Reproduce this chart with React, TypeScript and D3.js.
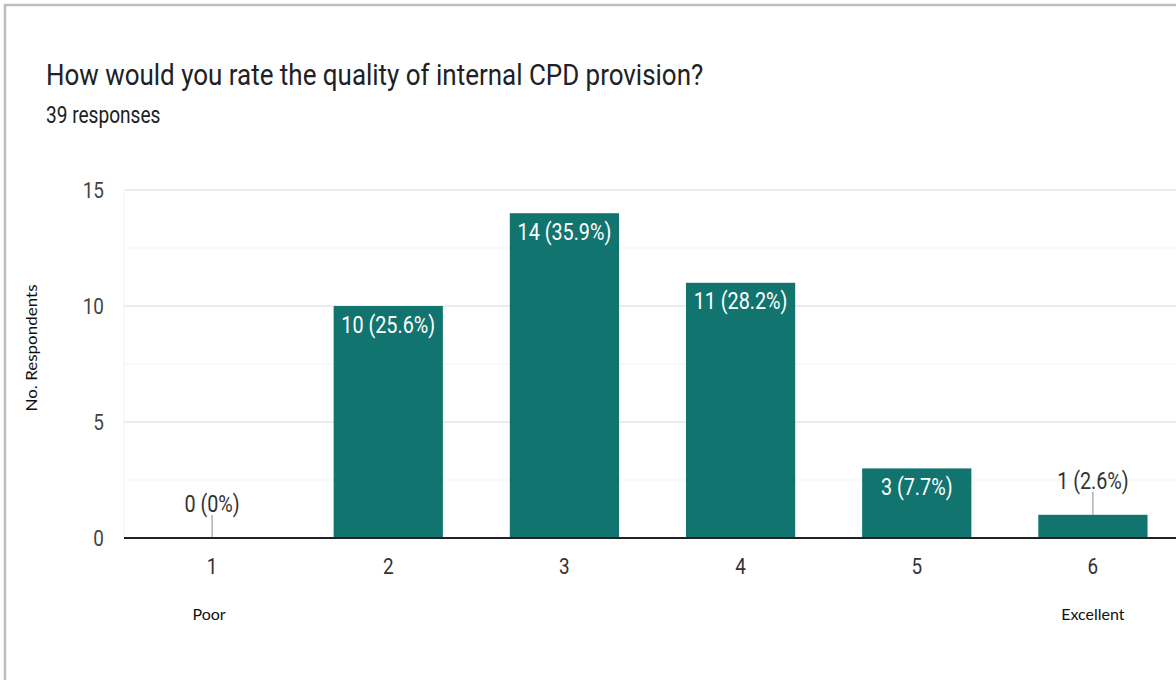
import React from "react";
import * as d3 from "d3";

// Survey answers: rating 1..6 and how many people picked each
const ratings = ["1", "2", "3", "4", "5", "6"];
const counts = [0, 10, 14, 11, 3, 1];
const percentLabels = ["0%", "25.6%", "35.9%", "28.2%", "7.7%", "2.6%"];
const yTicks = [0, 5, 10, 15];
const minorTicks = [2.5, 7.5, 12.5];

const title = "How would you rate the quality of internal CPD provision?";
const subtitle = "39 responses";

const W = 1176;
const H = 680;
const plotLeft = 124;
const plotRight = 1181;
const plotTop = 190;
const plotBottom = 538;
const barColor = "#12746f";

// Roboto text drawn slightly narrow, like the condensed Forms rendering
function Narrow(props: {
  x: number;
  y: number;
  sx?: number;
  size: number;
  anchor?: "start" | "middle" | "end";
  fill?: string;
  dy?: string;
  children: React.ReactNode;
}) {
  const { x, y, sx = 0.86, size, anchor = "start", fill = "#333", dy, children } = props;
  return (
    <g transform={`translate(${x},${y}) scale(${sx},1)`}>
      <text textAnchor={anchor} fontFamily="Roboto" fontSize={size} fill={fill} dy={dy}>
        {children}
      </text>
    </g>
  );
}

export default function App() {
  const x = d3
    .scaleBand<string>()
    .domain(ratings)
    .range([plotLeft, plotRight])
    .paddingInner(0.38)
    .paddingOuter(0.19);
  const y = d3.scaleLinear().domain([0, 15]).range([plotBottom, plotTop]);
  const bw = x.bandwidth();

  return (
    <svg
      width={W}
      height={H}
      style={{ position: "absolute", left: 0, top: 0, background: "#fff" }}
    >
      <rect x={5} y={5} width={W + 10} height={H + 10} fill="#fff" stroke="#bdbdbd" strokeWidth={2.5} />

      <Narrow x={46} y={85} size={29.5} sx={0.88} fill="#202124">
        {title}
      </Narrow>
      <Narrow x={46} y={122.5} size={23} sx={0.83} fill="#202124">
        {subtitle}
      </Narrow>

      {/* gridlines */}
      {minorTicks.map((t) => (
        <line key={"m" + t} x1={plotLeft} x2={W} y1={y(t)} y2={y(t)} stroke="#f3f3f3" strokeWidth={1} />
      ))}
      {yTicks.filter((t) => t > 0).map((t) => (
        <line key={"g" + t} x1={plotLeft} x2={W} y1={y(t)} y2={y(t)} stroke="#e6e6e6" strokeWidth={1.3} />
      ))}
      <line x1={plotLeft} x2={plotLeft} y1={plotTop} y2={plotBottom} stroke="#f0f0f0" strokeWidth={1} />

      {yTicks.map((t) => (
        <Narrow key={"yt" + t} x={104} y={y(t)} dy="0.36em" anchor="end" size={22} fill="#444">
          {t}
        </Narrow>
      ))}

      <text
        transform={`translate(37,348) rotate(-90)`}
        textAnchor="middle"
        fontFamily="Lato"
        fontSize={16}
        fill="#111"
        textLength={127}
        lengthAdjust="spacingAndGlyphs"
      >
        No. Respondents
      </text>

      {/* bars */}
      {ratings.map((r, i) => {
        const v = counts[i];
        const bx = x(r) as number;
        const cx = bx + bw / 2;
        const top = y(v);
        const label = `${v} (${percentLabels[i]})`;
        const inside = plotBottom - top > 40;
        return (
          <g key={r}>
            {v > 0 && <rect x={bx} y={top} width={bw} height={plotBottom - top} fill={barColor} />}
            {inside ? (
              <Narrow x={cx} y={top + 26.5} anchor="middle" size={23} fill="#fff">
                {label}
              </Narrow>
            ) : (
              <g>
                <line x1={cx} x2={cx} y1={top - 23} y2={top} stroke="#888" strokeWidth={1} />
                <Narrow x={cx} y={top - 26} anchor="middle" size={23} fill="#333">
                  {label}
                </Narrow>
              </g>
            )}
            <Narrow x={cx} y={573.5} anchor="middle" size={22} fill="#333">
              {r}
            </Narrow>
          </g>
        );
      })}

      <line x1={plotLeft} x2={W} y1={plotBottom} y2={plotBottom} stroke="#222" strokeWidth={2} />

      <text x={x("1")! + bw / 2 - 3} y={620} textAnchor="middle" fontFamily="Lato" fontSize={16} fill="#111">
        Poor
      </text>
      <text x={x("6")! + bw / 2} y={620} textAnchor="middle" fontFamily="Lato" fontSize={16} fill="#111">
        Excellent
      </text>
    </svg>
  );
}
